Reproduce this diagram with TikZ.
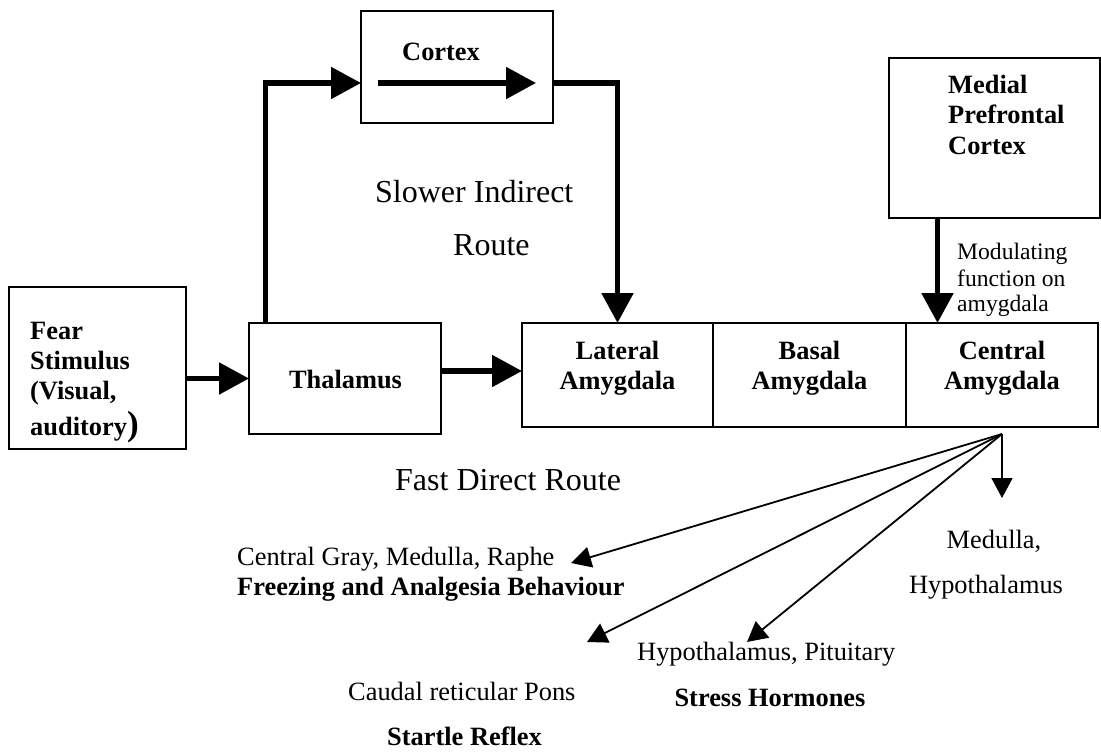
\documentclass[tikz,border=0pt]{standalone}
\usepackage{fontspec}
\setmainfont{Liberation Serif}
\usetikzlibrary{arrows.meta,calc}
\begin{document}
\begin{tikzpicture}[x=1pt,y=-1pt,
  box/.style={draw,line width=1.5pt,inner sep=0pt,outer sep=0pt},
  thk/.style={line width=5.3pt,-{Triangle[length=30pt,width=31pt]}},
  thn/.style={line width=1.8pt,-{Triangle[length=20pt,width=21pt]}},
  bl/.style={font=\fontsize{26.4}{30}\selectfont\bfseries,inner sep=0pt},
  rl/.style={font=\fontsize{26.4}{30}\selectfont,inner sep=0pt},
  big/.style={font=\fontsize{32}{36}\selectfont,inner sep=0pt},
  sm/.style={font=\fontsize{23.6}{26}\selectfont,inner sep=0pt}]
\useasboundingbox (0,0) rectangle (1101,752);

% boxes
\node[box,minimum width=177pt,minimum height=162pt] (fear) at (97.5,368) {};
\node[box,minimum width=192pt,minimum height=111pt] (thal) at (345,378.5) {};
\node[box,minimum width=192pt,minimum height=112pt] (cortex) at (457,67) {};
\node[box,minimum width=191pt,minimum height=104pt] (lat) at (617.5,375) {};
\node[box,minimum width=193pt,minimum height=104pt] (bas) at (809.5,375) {};
\node[box,minimum width=192pt,minimum height=104pt] (cen) at (1002,375) {};
\node[box,minimum width=211pt,minimum height=160pt] (mpfc) at (994.5,138) {};

% box texts
\node[bl,anchor=base west] (fear1) at (30,339) {Fear};
\node[bl,anchor=base west] (fear2) at (30,369) {Stimulus};
\node[bl,anchor=base west] (fear3) at (30,399) {(Visual,};
\node[bl,anchor=base west] (fear4) at (30,435) {auditory{\fontsize{35}{36}\selectfont )}};
\node[bl,anchor=base] (thaltxt) at (345.5,388) {Thalamus};
\node[bl,anchor=base west] (cortxt) at (402,61) {Cortex};
\node[bl,anchor=base] (lat1) at (617.5,359) {Lateral};
\node[bl,anchor=base] (lat2) at (617.5,389) {Amygdala};
\node[bl,anchor=base] (bas1) at (809.5,359) {Basal};
\node[bl,anchor=base] (bas2) at (809.5,389) {Amygdala};
\node[bl,anchor=base] (cen1) at (1002,359) {Central};
\node[bl,anchor=base] (cen2) at (1002,389) {Amygdala};
\node[bl,anchor=base west] (mp1) at (948,93) {Medial};
\node[bl,anchor=base west] (mp2) at (948,123) {Prefrontal};
\node[bl,anchor=base west] (mp3) at (948,154) {Cortex};

% route labels
\node[big,anchor=base west] (slow1) at (375,202) {Slower Indirect};
\node[big,anchor=base west] (slow2) at (453,255) {Route};
\node[big,anchor=base west] (fast) at (395,490) {Fast Direct Route};
\node[sm,anchor=base west] (mod1) at (957,259) {Modulating};
\node[sm,anchor=base west] (mod2) at (957,286) {function on};
\node[sm,anchor=base west] (mod3) at (957,311) {amygdala};

% output labels
\node[rl,anchor=base west] (cg) at (237,565) {Central Gray, Medulla, Raphe};
\node[bl,anchor=base west] (frz) at (237,595) {Freezing and Analgesia Behaviour};
\node[rl,anchor=base west] (crp) at (348,700) {Caudal reticular Pons};
\node[bl,anchor=base] (str) at (464.5,745) {Startle Reflex};
\node[rl,anchor=base west] (hp) at (637,660) {Hypothalamus, Pituitary};
\node[bl,anchor=base] (sh) at (770,706) {Stress Hormones};
\node[rl,anchor=base] (med1) at (994,548) {Medulla,};
\node[rl,anchor=base] (med2) at (986,593) {Hypothalamus};

% thick connectors
\coordinate (ty) at (0,371);
\coordinate (mx) at (937.5,0);
\draw[thk] (fear.east |- thal.west) -- (thal.west);
\draw[thk] (thal.east |- ty) -- (lat.west |- ty);
\draw[thk] ($(thal.north west)+(16.5,0)$) |- ($(cortex.west)+(0,16)$);
\draw[thk] ($(cortex.west)+(17,16)$) -- ($(cortex.east)+(-17,16)$);
\draw[thk] ($(cortex.east)+(0,16)$) -| (lat.north);
\draw[thk] (mpfc.south -| mx) -- (cen.north -| mx);

% fan of outputs
\coordinate (apex) at ($(cen.south)+(0,7)$);
\coordinate (t1) at (571,563);
\coordinate (t2) at (587,642);
\coordinate (t3) at (747,642);
\coordinate (t4) at (1002,498);
\draw[thn] (apex) -- (t1);
\draw[thn] (apex) -- (t2);
\draw[thn] (apex) -- (t3);
\draw[thn] (apex) -- (t4);
\end{tikzpicture}
\end{document}
